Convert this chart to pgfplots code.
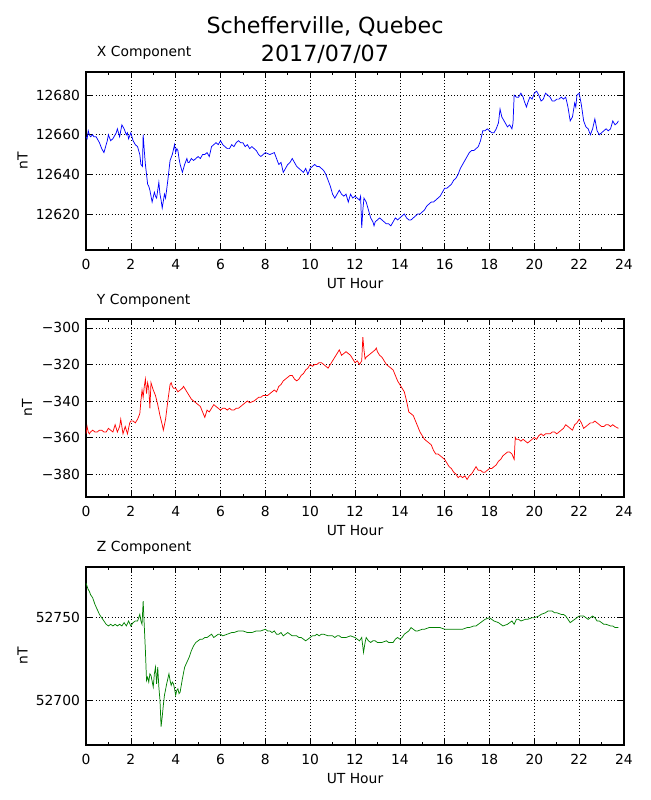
\documentclass[border=0pt]{standalone}
\usepackage{pgfplots}
\pgfplotsset{compat=1.18}
\usepackage{fontspec}
\setmainfont{DejaVu Sans}
\definecolor{mgreen}{rgb}{0,0.5,0}
\pgfplotsset{
 magstyle/.style={
  scale only axis, width=403.5pt, height=133.5pt,
  xmin=0, xmax=24, xtick={0,2,...,24}, minor x tick num=1,
  tick align=inside, xtick pos=both, ytick pos=both,
  scaled y ticks=false,
  major tick length=4.2pt, minor tick length=2.1pt,
  grid=major, major grid style={black, line width=0.5pt, dash pattern=on 0.6pt off 1.8pt},
  axis line style={line width=0.8pt},
  every tick/.style={black, line width=0.5pt},
  tick label style={font=\fontsize{10.4}{12}\selectfont},
  xticklabel style={yshift=-3.3pt},
  yticklabel style={xshift=-1pt},
  /pgf/number format/assume math mode=true,
  /pgf/number format/set thousands separator={},
  xlabel={UT Hour}, ylabel={nT},
  label style={font=\fontsize{10.4}{12}\selectfont},
  xlabel style={at={(axis description cs:0.5,0)}, yshift=-24.9pt, anchor=center},
  title style={at={(axis description cs:0,1)}, anchor=base west, xshift=4.7pt, yshift=5.25pt, font=\fontsize{10.4}{12}\selectfont},
 }
}
\begin{document}
\begin{tikzpicture}
\path[use as bounding box] (0,0) rectangle (487.5pt,600pt);
\node[anchor=base, font=\fontsize{16.67}{20}\selectfont] at (243.75pt,574.5pt) {Schefferville, Quebec};
\node[anchor=base, font=\fontsize{16.67}{20}\selectfont] at (243.75pt,553.7pt) {2017/07/07};
\begin{axis}[magstyle, at={(64.5pt,412.5pt)}, anchor=south west,
  ymin=12601.8, ymax=12691.7, ytick={12620,12640,12660,12680},
  yticklabels={12620,12640,12660,12680},
  title={X Component},
  ylabel style={at={(axis description cs:-0.1177,0.5)}, anchor=center}]
\addplot[blue, line width=0.55pt] coordinates {
(0,12659) (0.05,12658) (0.1,12662) (0.15,12660) (0.2,12659) (0.3,12660) (0.35,12659) (0.45,12659) (0.5,12658) (0.6,12656) (0.7,12653) (0.8,12651) (0.85,12653) (0.9,12655) (0.95,12657) (1.0,12660) (1.1,12657) (1.2,12658) (1.3,12660) (1.35,12661) (1.4,12663) (1.5,12659) (1.55,12662) (1.6,12665) (1.65,12664) (1.7,12663) (1.8,12660) (1.85,12661) (1.9,12658) (2.0,12661) (2.1,12657) (2.2,12655) (2.3,12654) (2.4,12650) (2.45,12645) (2.52,12644) (2.55,12660) (2.6,12652) (2.65,12645) (2.75,12635) (2.8,12634) (2.85,12632) (2.95,12626) (3.05,12631) (3.1,12629) (3.15,12628) (3.25,12636) (3.3,12630) (3.35,12627) (3.4,12623) (3.5,12630) (3.55,12628) (3.65,12637) (3.75,12647) (3.85,12650) (3.95,12655) (4.0,12651) (4.05,12653) (4.1,12652) (4.15,12648) (4.2,12645) (4.3,12641) (4.4,12645) (4.5,12648) (4.55,12646) (4.6,12646) (4.7,12648) (4.8,12647) (4.9,12648) (5.0,12649) (5.1,12648) (5.2,12650) (5.3,12650) (5.4,12651) (5.5,12649) (5.6,12654) (5.7,12655) (5.8,12656) (5.9,12655) (6.0,12657) (6.1,12655) (6.2,12654) (6.3,12653) (6.4,12653) (6.5,12655) (6.6,12654) (6.7,12656) (6.8,12657) (6.9,12656) (7.0,12656) (7.1,12654) (7.2,12655) (7.3,12653) (7.4,12654) (7.5,12653) (7.6,12652) (7.7,12650) (7.8,12649) (7.9,12650) (8.0,12651) (8.2,12650) (8.4,12651) (8.5,12648) (8.6,12645) (8.7,12646) (8.8,12641) (8.9,12643) (9.0,12645) (9.1,12646) (9.2,12648) (9.3,12646) (9.4,12644) (9.5,12643) (9.6,12642) (9.7,12641) (9.8,12643) (9.9,12640) (10.0,12643) (10.1,12644) (10.2,12645) (10.3,12644) (10.4,12644) (10.5,12643) (10.6,12642) (10.7,12640) (10.8,12637) (10.9,12634) (10.95,12632) (11.0,12630) (11.1,12628) (11.2,12630) (11.3,12632) (11.4,12630) (11.5,12629) (11.6,12630) (11.7,12626) (11.8,12630) (11.9,12628) (12.0,12629) (12.1,12628) (12.2,12627) (12.25,12629) (12.3,12613) (12.35,12622) (12.4,12628) (12.5,12626) (12.6,12622) (12.7,12618) (12.8,12616) (12.85,12614) (12.9,12616) (13.0,12617) (13.1,12618) (13.2,12617) (13.3,12616) (13.4,12615) (13.5,12615) (13.6,12614) (13.7,12616) (13.8,12618) (13.9,12617) (14.0,12618) (14.1,12619) (14.2,12620) (14.3,12618) (14.4,12617) (14.5,12617) (14.6,12618) (14.7,12619) (14.8,12620) (14.9,12620) (15.0,12621) (15.1,12622) (15.2,12624) (15.3,12625) (15.4,12626) (15.5,12626) (15.6,12627) (15.7,12628) (15.8,12629) (15.9,12631) (16.0,12633) (16.1,12633) (16.2,12634) (16.3,12635) (16.4,12637) (16.5,12638) (16.6,12640) (16.7,12643) (16.8,12645) (16.9,12647) (17.0,12649) (17.1,12651) (17.2,12652) (17.3,12652) (17.4,12653) (17.5,12654) (17.6,12657) (17.7,12662) (17.8,12662) (17.9,12663) (18.0,12662) (18.1,12661) (18.2,12661) (18.3,12663) (18.4,12666) (18.47,12673) (18.55,12669) (18.6,12668) (18.7,12666) (18.8,12664) (18.9,12665) (19.0,12663) (19.05,12666) (19.1,12680) (19.2,12679) (19.3,12679) (19.4,12681) (19.5,12679) (19.55,12677) (19.65,12674) (19.7,12676) (19.8,12679) (19.9,12678) (20.0,12681) (20.1,12682) (20.2,12680) (20.3,12677) (20.4,12678) (20.5,12681) (20.6,12680) (20.7,12679) (20.8,12677) (20.9,12677) (21.0,12678) (21.1,12678) (21.2,12679) (21.3,12678) (21.4,12679) (21.5,12674) (21.6,12667) (21.7,12669) (21.8,12676) (21.85,12674) (21.9,12680) (22.0,12681) (22.1,12675) (22.2,12667) (22.3,12664) (22.4,12663) (22.5,12660) (22.6,12663) (22.7,12668) (22.8,12662) (22.9,12660) (23.0,12661) (23.1,12662) (23.2,12663) (23.3,12662) (23.4,12663) (23.5,12667) (23.6,12665) (23.7,12666) (23.75,12667)
};
\end{axis}
\begin{axis}[magstyle, at={(64.5pt,227.25pt)}, anchor=south west,
  ymin=-392.6, ymax=-295.1, ytick={-380,-360,-340,-320,-300},
  yticklabels={−380,−360,−340,−320,−300},
  title={Y Component},
  ylabel style={at={(axis description cs:-0.1097,0.5)}, anchor=center}]
\addplot[red, line width=0.55pt] coordinates {
(0.0,-358) (0.05,-354) (0.1,-357) (0.15,-358) (0.2,-357) (0.3,-356) (0.4,-357) (0.5,-357) (0.6,-356) (0.7,-356) (0.8,-357) (0.9,-357) (1.0,-355) (1.1,-356) (1.2,-357) (1.3,-353) (1.4,-357) (1.5,-354) (1.55,-350) (1.65,-358) (1.75,-354) (1.85,-358) (1.95,-352) (2.0,-351) (2.1,-351) (2.2,-352) (2.3,-350) (2.4,-347) (2.45,-340) (2.5,-334) (2.55,-338) (2.6,-332) (2.65,-328) (2.7,-336) (2.75,-330) (2.8,-333) (2.85,-344) (2.9,-330) (3.0,-334) (3.1,-337) (3.2,-342) (3.3,-348) (3.4,-353) (3.45,-356) (3.55,-350) (3.65,-340) (3.75,-331) (3.8,-330) (3.85,-332) (3.9,-333) (4.0,-333) (4.1,-335) (4.2,-334) (4.3,-333) (4.35,-332) (4.4,-333) (4.5,-335) (4.6,-337) (4.7,-339) (4.8,-340) (4.9,-341) (5.0,-342) (5.1,-343) (5.2,-346) (5.3,-349) (5.4,-345) (5.5,-346) (5.6,-344) (5.7,-342) (5.8,-343) (5.9,-344) (6.0,-345) (6.1,-344) (6.2,-344) (6.3,-345) (6.4,-344) (6.5,-345) (6.6,-345) (6.7,-344) (6.8,-344) (6.9,-343) (7.0,-342) (7.1,-341) (7.2,-340) (7.3,-341) (7.5,-340) (7.6,-339) (7.7,-338) (7.8,-338) (7.9,-337) (8.0,-337) (8.1,-337) (8.2,-336) (8.3,-335) (8.4,-334) (8.5,-335) (8.6,-332) (8.7,-331) (8.8,-329) (8.9,-328) (9.0,-327) (9.1,-326) (9.2,-326) (9.3,-328) (9.4,-329) (9.5,-328) (9.6,-326) (9.7,-325) (9.8,-323) (9.9,-322) (10.0,-320) (10.1,-321) (10.2,-320) (10.3,-320) (10.4,-319) (10.5,-319) (10.6,-320) (10.7,-321) (10.8,-322) (10.9,-320) (11.0,-318) (11.1,-316) (11.2,-314) (11.3,-312) (11.4,-315) (11.5,-314) (11.6,-313) (11.7,-314) (11.8,-315) (11.9,-317) (12.0,-319) (12.1,-318) (12.2,-320) (12.3,-318) (12.35,-305) (12.4,-312) (12.45,-317) (12.5,-316) (12.6,-315) (12.7,-314) (12.8,-313) (12.9,-312) (12.95,-311) (13.0,-313) (13.1,-315) (13.2,-316) (13.3,-318) (13.4,-320) (13.5,-321) (13.6,-322) (13.7,-323) (13.8,-326) (13.9,-329) (14.0,-331) (14.1,-333) (14.2,-335) (14.3,-340) (14.4,-346) (14.5,-347) (14.6,-348) (14.7,-351) (14.8,-354) (14.9,-357) (15.0,-359) (15.1,-361) (15.2,-362) (15.3,-363) (15.4,-364) (15.5,-367) (15.6,-369) (15.7,-369) (15.8,-370) (15.9,-371) (16.0,-372) (16.1,-374) (16.2,-376) (16.3,-377) (16.4,-379) (16.5,-380) (16.6,-382) (16.7,-381) (16.8,-382) (16.9,-381) (17.0,-383) (17.1,-381) (17.2,-380) (17.3,-378) (17.4,-376) (17.5,-378) (17.6,-378) (17.7,-379) (17.8,-379) (17.9,-378) (18.0,-377) (18.1,-377) (18.2,-376) (18.3,-375) (18.4,-373) (18.5,-372) (18.6,-370) (18.7,-369) (18.8,-368) (18.9,-368) (19.0,-369) (19.1,-372) (19.15,-360) (19.2,-361) (19.3,-361) (19.4,-362) (19.5,-361) (19.6,-362) (19.7,-363) (19.8,-362) (19.9,-361) (20.0,-360) (20.1,-361) (20.2,-359) (20.3,-358) (20.4,-359) (20.5,-358) (20.6,-358) (20.7,-358) (20.8,-357) (20.9,-357) (21.0,-358) (21.1,-357) (21.2,-356) (21.3,-355) (21.4,-353) (21.5,-354) (21.6,-355) (21.7,-356) (21.8,-353) (21.9,-352) (22.0,-350) (22.1,-352) (22.2,-355) (22.3,-354) (22.4,-353) (22.5,-352) (22.6,-352) (22.7,-351) (22.8,-352) (22.9,-353) (23.0,-354) (23.1,-354) (23.2,-353) (23.3,-353) (23.4,-354) (23.5,-353) (23.6,-354) (23.75,-355)
};
\end{axis}
\begin{axis}[magstyle, at={(64.5pt,41.25pt)}, anchor=south west,
  ymin=52672.9, ymax=52780.7, ytick={52700,52750},
  yticklabels={52700,52750},
  title={Z Component},
  ylabel style={at={(axis description cs:-0.1177,0.5)}, anchor=center}]
\addplot[mgreen, line width=0.55pt] coordinates {
(0.0,52771) (0.05,52769) (0.1,52767) (0.15,52766) (0.2,52764) (0.3,52762) (0.4,52758) (0.5,52755) (0.6,52752) (0.7,52750) (0.8,52748) (0.9,52746) (1.0,52745) (1.1,52746) (1.2,52745) (1.3,52746) (1.4,52745) (1.5,52746) (1.6,52745) (1.7,52747) (1.8,52745) (1.9,52748) (2.0,52745) (2.1,52747) (2.2,52748) (2.3,52748) (2.4,52752) (2.45,52748) (2.5,52746) (2.55,52760) (2.6,52745) (2.65,52730) (2.7,52712) (2.75,52714) (2.8,52711) (2.85,52716) (2.9,52715) (3.0,52708) (3.05,52716) (3.1,52720) (3.15,52710) (3.2,52720) (3.25,52708) (3.3,52700) (3.35,52684) (3.4,52690) (3.45,52697) (3.5,52703) (3.6,52710) (3.7,52716) (3.75,52712) (3.8,52709) (3.85,52711) (3.9,52710) (3.95,52707) (4.0,52703) (4.05,52706) (4.1,52707) (4.15,52704) (4.2,52705) (4.3,52713) (4.4,52720) (4.5,52723) (4.6,52726) (4.7,52730) (4.8,52733) (4.9,52735) (5.0,52736) (5.1,52737) (5.2,52737) (5.3,52738) (5.4,52738) (5.5,52739) (5.6,52740) (5.7,52738) (5.8,52739) (5.9,52740) (6.0,52740) (6.1,52739) (6.3,52740) (6.5,52741) (6.6,52741) (6.8,52742) (7.0,52742) (7.2,52741) (7.4,52741) (7.6,52742) (7.8,52742) (8.0,52743) (8.1,52742) (8.2,52742) (8.3,52741) (8.4,52742) (8.5,52740) (8.6,52740) (8.7,52741) (8.8,52739) (8.9,52740) (9.0,52741) (9.1,52740) (9.2,52739) (9.3,52739) (9.4,52739) (9.5,52738) (9.6,52738) (9.7,52737) (9.8,52736) (9.9,52737) (10.0,52738) (10.1,52739) (10.2,52739) (10.3,52740) (10.4,52739) (10.5,52740) (10.6,52740) (10.8,52739) (11.0,52739) (11.1,52738) (11.2,52739) (11.3,52739) (11.4,52738) (11.6,52738) (11.8,52739) (12.0,52738) (12.1,52737) (12.2,52736) (12.3,52738) (12.38,52729) (12.45,52735) (12.5,52738) (12.6,52736) (12.7,52735) (12.8,52736) (12.9,52736) (13.0,52735) (13.2,52735) (13.4,52736) (13.5,52735) (13.6,52735) (13.7,52735) (13.8,52737) (13.9,52738) (14.0,52737) (14.1,52738) (14.2,52740) (14.3,52741) (14.4,52742) (14.5,52744) (14.6,52743) (14.7,52742) (14.8,52742) (15.0,52743) (15.1,52743) (15.3,52744) (15.4,52744) (15.6,52744) (15.8,52744) (16.0,52743) (16.2,52743) (16.4,52743) (16.6,52743) (16.8,52743) (17.0,52744) (17.1,52744) (17.3,52745) (17.4,52745) (17.5,52746) (17.6,52747) (17.7,52748) (17.8,52749) (18.0,52750) (18.1,52749) (18.2,52748) (18.4,52747) (18.5,52746) (18.6,52745) (18.8,52746) (18.9,52747) (19.0,52748) (19.1,52746) (19.2,52749) (19.3,52749) (19.4,52748) (19.6,52749) (19.7,52749) (19.9,52750) (20.0,52750) (20.2,52751) (20.3,52752) (20.5,52753) (20.6,52754) (20.8,52754) (20.9,52753) (21.0,52753) (21.2,52752) (21.3,52752) (21.4,52751) (21.5,52749) (21.6,52747) (21.7,52748) (21.8,52749) (21.9,52750) (22.0,52751) (22.1,52751) (22.2,52751) (22.3,52750) (22.4,52749) (22.5,52750) (22.6,52751) (22.7,52750) (22.8,52748) (22.9,52748) (23.0,52747) (23.1,52746) (23.2,52746) (23.4,52745) (23.5,52745) (23.6,52744) (23.75,52744)
};
\end{axis}
\end{tikzpicture}
\end{document}
